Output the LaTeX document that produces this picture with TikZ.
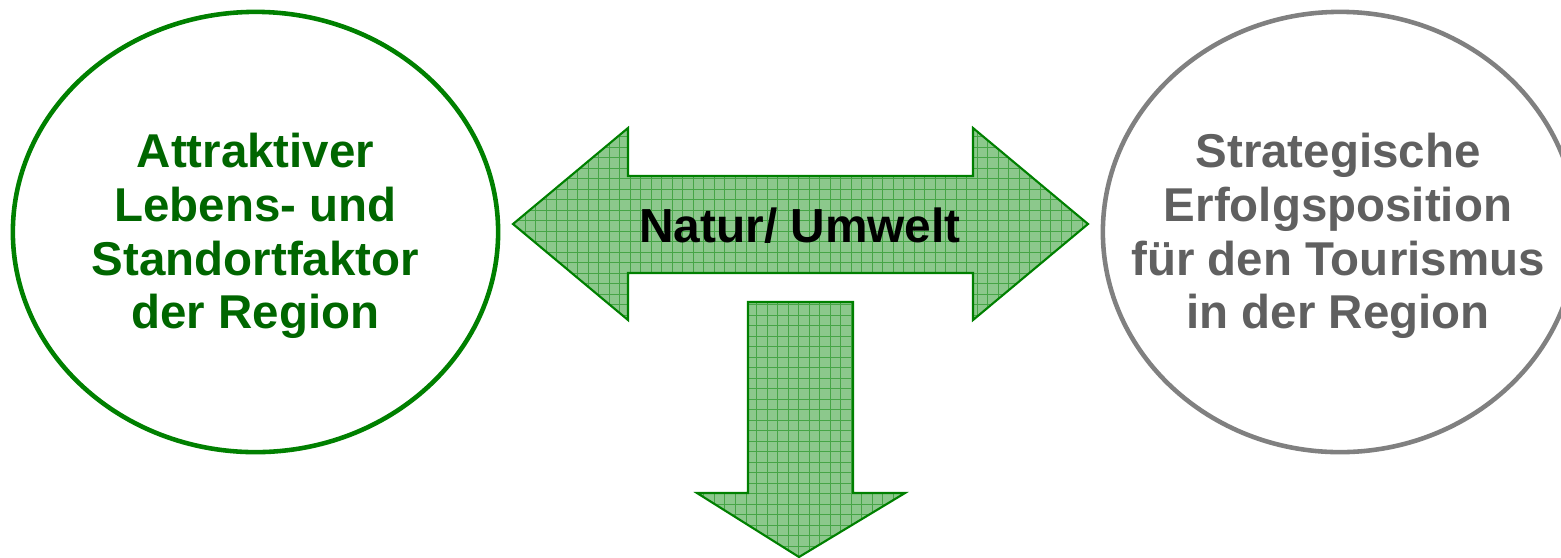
\documentclass[tikz,border=0pt]{standalone}
\usepackage{fontspec}
\setmainfont{Liberation Sans}
\usetikzlibrary{shapes.geometric}
\definecolor{kreisgruen}{RGB}{0,128,0}
\definecolor{textgruen}{RGB}{0,102,0}
\definecolor{kreisgrau}{RGB}{128,128,128}
\definecolor{textgrau}{RGB}{96,96,96}
\definecolor{pfeilfuell}{RGB}{140,200,140}
\definecolor{pfeilgitter}{RGB}{70,165,70}
\tikzset{kreis/.style={ellipse, draw=#1, line width=1.3pt, minimum width=4.85cm, minimum height=4.4cm, inner sep=0pt},
kreistext/.style={align=center, font=\fontsize{13.5}{15.3}\selectfont\bfseries, yshift=-0.04cm},
%gitter im pfeil, 1.05mm raster
pfeil/.style={draw=kreisgruen, line width=0.6pt, fill=pfeilfuell,
    path picture={\draw[pfeilgitter, line width=0.25pt, step=1.05mm]
        (path picture bounding box.south west) grid (path picture bounding box.north east);}}}

\begin{document}
\begin{tikzpicture}[x=0.01cm, y=-0.01cm]

    \clip (0,0) rectangle (1561,557);

    \node[kreis=kreisgruen] (lebensraum) at (255.5,232) {};
    \node[kreis=kreisgrau, minimum width=4.74cm] (tourismus) at (1340,232) {};

    \node[kreistext, text=textgruen] (lebenstext) at (lebensraum.center)
        {Attraktiver\\Lebens- und\\Standortfaktor\\der Region};
    \node[kreistext, text=textgrau, xshift=-0.02cm] (tourismustext) at (tourismus.center)
        {Strategische\\Erfolgsposition\\f\"ur den Tourismus\\in der Region};

    \coordinate (0) at (513,224);
    \coordinate (1) at (628,128);
    \coordinate (2) at (628,176);
    \coordinate (3) at (973,176);
    \coordinate (4) at (973,128);
    \coordinate (5) at (1088,224);
    \coordinate (6) at (973,320);
    \coordinate (7) at (973,273);
    \coordinate (8) at (628,273);
    \coordinate (9) at (628,320);

    \coordinate (10) at (748,302);
    \coordinate (11) at (853,302);
    \coordinate (12) at (853,493);
    \coordinate (13) at (905,493);
    \coordinate (14) at (799,557);
    \coordinate (15) at (697,493);
    \coordinate (16) at (748,493);

    \draw[pfeil] (0) -- (1) -- (2) -- (3) -- (4) -- (5) -- (6) -- (7) -- (8) -- (9) -- cycle;
    \draw[pfeil] (10) -- (11) -- (12) -- (13) -- (14) -- (15) -- (16) -- cycle;

    \node[font=\fontsize{13.6}{15.4}\selectfont\bfseries] (natur) at (800,226) {Natur/ Umwelt};

  \end{tikzpicture}
\end{document}
